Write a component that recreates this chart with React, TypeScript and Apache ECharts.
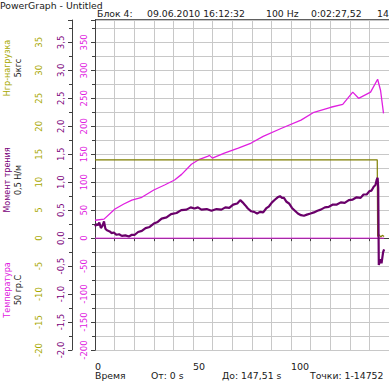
import React, { useEffect, useRef } from "react";
import * as echarts from "echarts";

// ---- data ----
const loadT = [0, 10, 30, 60, 90, 120, 144.0, 144.2, 145.0, 145.8, 146.6, 147.5];
const loadV = [14.0, 14.0, 14.0, 14.0, 14.0, 14.0, 14.0, 0.3, 0.6, 0.2, 0.5, 0.3];

const torqueT = [0, 0.8, 1.5, 2.2, 3, 3.8, 4.6, 5.3, 6.1, 7.5, 8.5, 9.6, 11, 12.3, 13.7, 15.5, 17.3, 18.8, 20.3, 22, 23.9, 25.8, 27.9, 30, 32, 34, 36.5, 38.8, 41.6, 44, 46.7, 48.8, 50.8, 52.5, 54.3, 57, 59.4, 62, 64.5, 66.5, 68.5, 70.5, 72.6, 74.1, 75.3, 76.6, 78, 79.7, 81.2, 82.7, 84.2, 85.8, 87.3, 88.8, 90.3, 91.9, 93.2, 94.4, 95.4, 96.4, 97.7, 99, 100.5, 102, 103.5, 105.1, 106.6, 108.1, 110, 111.7, 113.5, 115.2, 117.3, 119.3, 121.4, 123.4, 125.4, 127.4, 129.5, 131.5, 133.5, 135.5, 137, 138.6, 140, 141.1, 142.2, 143.1, 143.7, 144.2, 144.5, 144.8, 145.6, 146.2, 147, 147.5];
const torqueV = [0.21, 0.25, 0.23, 0.28, 0.18, 0.22, 0.3, 0.17, 0.14, 0.12, 0.09, 0.1, 0.06, 0.07, 0.04, 0.05, 0.03, 0.06, 0.06, 0.11, 0.13, 0.18, 0.2, 0.26, 0.29, 0.35, 0.37, 0.43, 0.45, 0.5, 0.51, 0.55, 0.53, 0.55, 0.51, 0.52, 0.49, 0.52, 0.51, 0.55, 0.54, 0.6, 0.62, 0.68, 0.64, 0.59, 0.53, 0.48, 0.47, 0.44, 0.47, 0.46, 0.53, 0.57, 0.64, 0.69, 0.73, 0.75, 0.72, 0.72, 0.65, 0.62, 0.54, 0.49, 0.44, 0.41, 0.4, 0.42, 0.44, 0.46, 0.49, 0.51, 0.55, 0.56, 0.6, 0.6, 0.64, 0.63, 0.68, 0.69, 0.73, 0.72, 0.78, 0.78, 0.84, 0.85, 0.92, 0.95, 1.04, 1.08, 0.9, -0.48, -0.38, -0.45, -0.25, -0.2];

const tempT = [0, 4.6, 10.2, 14.7, 18.8, 23.9, 30, 35.5, 40.6, 44.2, 49.2, 53.3, 57.4, 58.4, 59.9, 66, 73.1, 79.7, 85.8, 94.9, 105.1, 111.7, 120.3, 126.4, 131.5, 134.5, 140.6, 144.2, 145.7, 147.2];
const tempV = [32, 34, 52, 61, 68, 73, 86, 95, 104, 114, 132, 141, 146, 148, 143, 152, 161, 170, 182, 196, 211, 225, 234, 239, 261, 250, 261, 284, 264, 223];

const zeroT = [0, 147.5];
const zeroV = [0, 0];

const xLabels = [0, 50, 100];
const header = ["Блок 4:", "09.06.2010 16:12:32", "100 Hz", "0:02:27,52", "14"];
const headerX = [97, 147, 266, 311, 377];
const footer = ["Время", "От: 0 s", "До: 147,51 s", "Точки: 1-14752"];
const footerX = [95, 151, 222, 310];

const OLIVE = "#a8a800";
const OLIVE_LINE = "#7f7f00";
const PURPLE = "#6a006a";
const PURPLE_LBL = "#7a007a";
const MAGENTA = "#e020e0";
const GRID = "#c8c8c8";
const FONT = "DejaVu Sans";

export default function App() {
  const ref = useRef<HTMLDivElement>(null);
  useEffect(() => {
    document.body.style.margin = "0";
    const chart = echarts.init(ref.current!, null, { renderer: "svg" });
    const zip = (t: number[], v: number[]) => t.map((x, i) => [x, v[i]]);
    const yBase = (offset: number, min: number, max: number, interval: number, color: string, fmt: (v: number) => string, grid: boolean) => ({
      type: "value",
      position: "left",
      offset,
      min,
      max,
      interval,
      axisLine: { show: true, lineStyle: { color: "#404040", width: 1 } },
      axisTick: { show: true, inside: false, length: 4, lineStyle: { color: "#404040" } },
      minorTick: { show: true, splitNumber: 2, length: 3, lineStyle: { color: "#404040" } },
      axisLabel: {
        rotate: 90,
        color,
        fontSize: 8.5,
        fontFamily: FONT,
        margin: 7,
        showMaxLabel: false,
        formatter: (v: number) => fmt(v),
      },
      splitLine: { show: grid, lineStyle: { color: GRID, width: 1 } },
      minorSplitLine: { show: grid, lineStyle: { color: GRID, width: 1 } },
    });
    chart.setOption({
      animation: false,
      backgroundColor: "#ffffff",
      grid: { left: 95, right: 0, top: 20, bottom: 31, containLabel: false },
      xAxis: {
        type: "value",
        min: 0,
        max: 150,
        interval: 10,
        offset: 5,
        axisLine: { show: true, lineStyle: { color: "#404040" } },
        axisTick: { show: true, length: 3, lineStyle: { color: "#404040" } },
        axisLabel: {
          color: "#202020",
          fontSize: 9.5,
          fontFamily: FONT,
          margin: 6,
          align: "left",
          showMaxLabel: false,
          formatter: (v: number) => (xLabels.includes(v) ? String(v) : ""),
        },
        splitLine: { show: true, lineStyle: { color: GRID, width: 1 } },
      },
      yAxis: [
        yBase(45, -20, 39, 5, OLIVE, (v) => String(v), true),
        yBase(23, -2, 3.9, 0.5, PURPLE_LBL, (v) => v.toFixed(1).replace(".", ","), false),
        yBase(0, -200, 390, 50, MAGENTA, (v) => String(v), false),
      ],
      series: [
        {
          type: "line",
          yAxisIndex: 2,
          data: zip(zeroT, zeroV),
          showSymbol: false,
          lineStyle: { color: MAGENTA, width: 1 },
        },
        {
          type: "line",
          yAxisIndex: 2,
          data: zip(tempT, tempV),
          showSymbol: false,
          lineStyle: { color: MAGENTA, width: 1.3 },
        },
        {
          type: "line",
          yAxisIndex: 0,
          data: zip(loadT, loadV),
          showSymbol: false,
          lineStyle: { color: OLIVE_LINE, width: 1.2 },
        },
        {
          type: "line",
          yAxisIndex: 1,
          data: zip(torqueT, torqueV),
          showSymbol: false,
          lineStyle: { color: PURPLE, width: 2.2 },
        },
      ],
      graphic: [
        { type: "text", x: 0, y: 1, style: { text: "PowerGraph - Untitled", font: `9.3px ${FONT}`, fill: "#202020" } },
        ...header.map((h, i) => ({
          type: "text",
          x: headerX[i],
          y: 9,
          style: { text: h, font: `9.3px ${FONT}`, fill: "#202020" },
        })),
        { type: "line", shape: { x1: 95, y1: 19.5, x2: 389, y2: 19.5 }, style: { stroke: "#606060", lineWidth: 1 } },
        ...footer.map((h, i) => ({
          type: "text",
          x: footerX[i],
          y: 371,
          style: { text: h, font: `9.3px ${FONT}`, fill: "#202020" },
        })),
        { type: "text", x: 7, y: 68, rotation: Math.PI / 2, style: { text: "Нгр-нагрузка", font: `8px ${FONT}`, fill: OLIVE, align: "center", verticalAlign: "middle" } },
        { type: "text", x: 18, y: 68, rotation: Math.PI / 2, style: { text: "5кгс", font: `8px ${FONT}`, fill: "#202020", align: "center", verticalAlign: "middle" } },
        { type: "text", x: 7, y: 180, rotation: Math.PI / 2, style: { text: "Момент трения", font: `8px ${FONT}`, fill: PURPLE_LBL, align: "center", verticalAlign: "middle" } },
        { type: "text", x: 18, y: 180, rotation: Math.PI / 2, style: { text: "0,5 Н/м", font: `8px ${FONT}`, fill: "#202020", align: "center", verticalAlign: "middle" } },
        { type: "text", x: 7, y: 290, rotation: Math.PI / 2, style: { text: "Температура", font: `8px ${FONT}`, fill: MAGENTA, align: "center", verticalAlign: "middle" } },
        { type: "text", x: 18, y: 290, rotation: Math.PI / 2, style: { text: "50 гр.С", font: `8px ${FONT}`, fill: "#202020", align: "center", verticalAlign: "middle" } },
      ],
    });
    return () => chart.dispose();
  }, []);
  return <div ref={ref} style={{ width: 389, height: 381 }} />;
}
